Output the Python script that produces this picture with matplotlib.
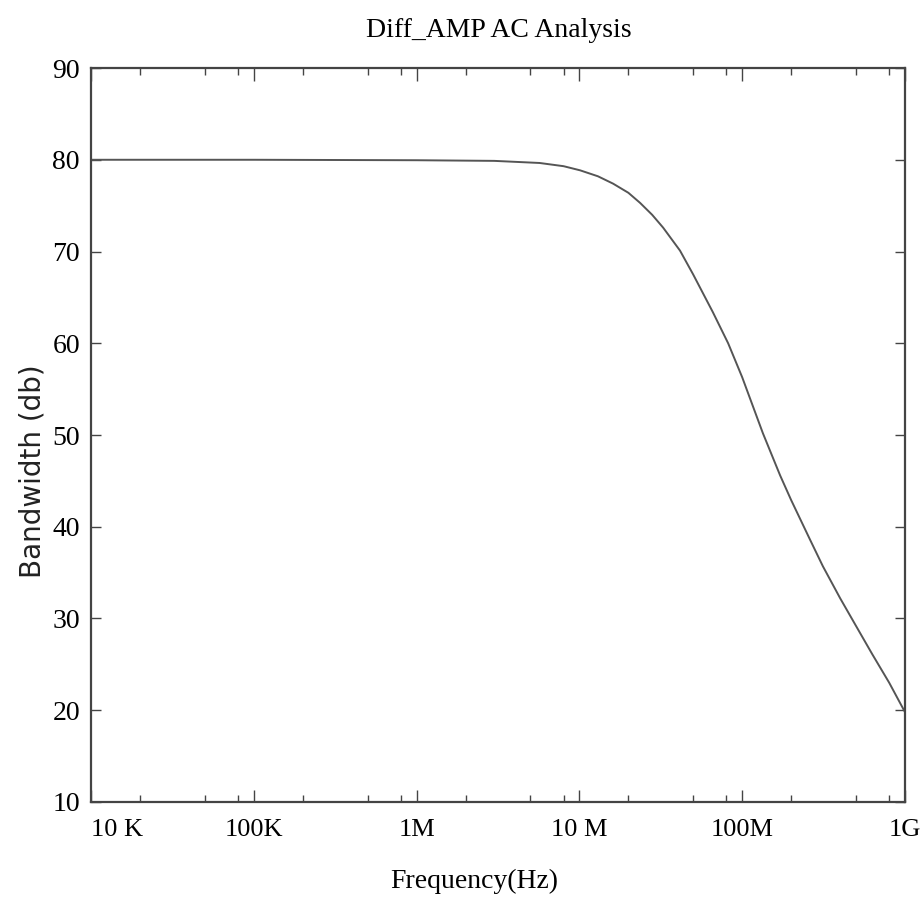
import numpy as np
import matplotlib.pyplot as plt
from matplotlib.ticker import FixedLocator, NullFormatter

# frequency response
freq = [1e4, 1e5, 1e6, 3e6, 5.7e6, 8e6, 1.01e7, 1.3e7, 1.61e7, 2.0e7, 2.36e7,
        2.8e7, 3.27e7, 4.15e7, 5.0e7, 6.6e7, 8.2e7, 1.0e8, 1.34e8, 1.71e8,
        2.0e8, 2.61e8, 3.13e8, 4.0e8, 5.0e8, 6.3e8, 8.0e8, 1e9]
gain = [80, 80, 79.95, 79.88, 79.65, 79.3, 78.85, 78.2, 77.4, 76.4, 75.3,
        74.0, 72.6, 70.1, 67.5, 63.4, 60.0, 56.3, 50.2, 45.6,
        42.9, 38.6, 35.7, 32.2, 29.2, 26.1, 23.0, 19.8]

xticks = [1e4, 1e5, 1e6, 1e7, 1e8, 1e9]
xticklabels = ["10 K", "100K", "1M", "10 M", "100M", "1G"]
yticks = [10, 20, 30, 40, 50, 60, 70, 80, 90]

serif = ["Liberation Serif", "DejaVu Serif"]

fig = plt.figure(figsize=(9.24, 9.01), dpi=100)
ax = fig.add_axes([0.0985, 0.1099, 0.8809, 0.8146])

ax.plot(freq, gain, color="#555555", lw=1.4)
ax.set_xscale("log")
ax.set_xlim(1e4, 1e9)
ax.set_ylim(10, 90)

ax.set_xticks(xticks)
ax.set_xticklabels(xticklabels, family=serif, fontsize=19)
minors = [m * 10.0 ** d for d in range(4, 9) for m in (2, 5, 8)]
ax.xaxis.set_minor_locator(FixedLocator(minors))
ax.xaxis.set_minor_formatter(NullFormatter())
ax.set_yticks(yticks)
ax.set_yticklabels([str(v) for v in yticks], family=serif, fontsize=20)
ax.get_xticklabels()[0].set_horizontalalignment("left")

ax.tick_params(which="both", direction="in", top=True, right=True, color="#444444", width=1.0)
ax.tick_params(which="major", length=9, pad=10)
ax.tick_params(which="minor", length=5)
ax.tick_params(axis="x", which="major", pad=12)
ax.tick_params(axis="y", which="major", pad=8, length=7)
for s in ax.spines.values():
    s.set_color("#444444")
    s.set_linewidth(1.6)

fig.text(0.54, 0.966, "Diff_AMP AC Analysis", family=serif, fontsize=20, ha="center", va="center")
fig.text(0.513, 0.022, "Frequency(Hz)", family=serif, fontsize=20, ha="center", va="center")
fig.text(0.035, 0.477, "Bandwidth (db)", family=["DejaVu Sans"], fontsize=20,
         rotation=90, ha="center", va="center", color="#222222")

plt.savefig("out.png", dpi=100)
